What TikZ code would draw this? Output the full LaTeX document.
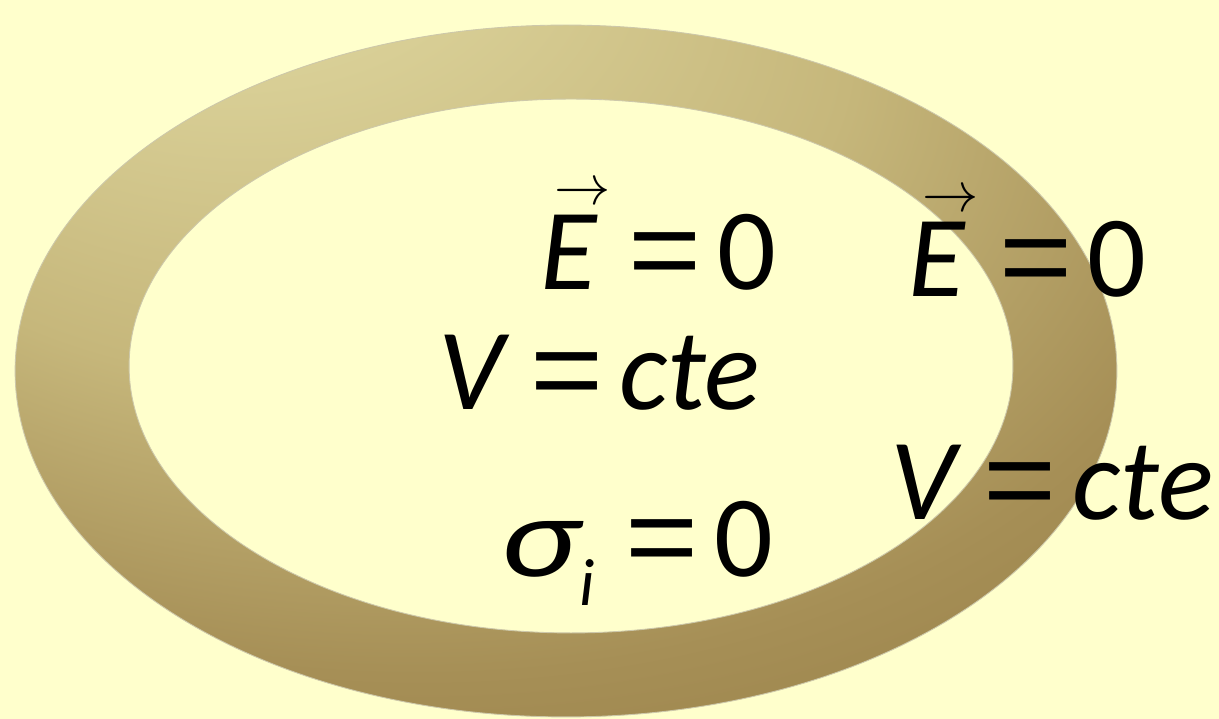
\RequirePackage{fix-cm}
\documentclass[tikz,border=0pt]{standalone}
\usepackage{fontspec}
\setmainfont{Carlito}
\newfontfamily\eqfont{Liberation Sans}
\usetikzlibrary{positioning}

\definecolor{bgyellow}{RGB}{255,255,204}
\definecolor{ringA}{RGB}{236,234,182}
\definecolor{ringB}{RGB}{222,214,158}
\definecolor{ringC}{RGB}{198,183,123}
\definecolor{ringD}{RGB}{166,143,86}
\definecolor{ringE}{RGB}{150,126,70}
\definecolor{ringF}{RGB}{138,112,56}
\definecolor{ringedge}{RGB}{205,200,170}

\pgfdeclareradialshading{ringshade}{\pgfpoint{-20bp}{42bp}}{%
  color(0bp)=(ringA); color(8bp)=(ringB); color(24bp)=(ringC);
  color(36bp)=(ringD); color(45bp)=(ringE); color(54bp)=(ringF)}

% equals sign and vector E
\newcommand{\eqsign}[2]{\hspace{#1}{\upshape\eqfont\scalebox{1.08}[1]{=}}\hspace{#2}}
\newcommand{\vecE}{\makebox[0pt][l]{\kern0.12em\raisebox{0.74em}{\fontsize{32}{32}\selectfont$\rightarrow$}}E}

\begin{document}
\begin{tikzpicture}[x=0.02cm, y=0.02cm,
		% Style definitions
		ringfill/.style={
			shade,
			shading=ringshade,
			even odd rule,
			draw=ringedge,
			line width=0.5pt
		},
		formula/.style={
			anchor=base west,
			inner sep=0pt,
			font=\fontsize{66}{70}\selectfont\itshape
		}
		]
		% Background
		\useasboundingbox (0,0) rectangle (1219,719);
		\fill[bgyellow] (0,0) rectangle (1219,719);
		
		% Conductor ring
		\path[ringfill] (566,348) ellipse [x radius=11.02cm, y radius=6.92cm]
			(571,353) ellipse [x radius=8.84cm, y radius=5.34cm];
		
		% Inside the cavity
		\node[formula] (Ein) at (540,429) {\vecE\eqsign{0.27em}{0.14em}{\upshape 0}};
		\node[formula] (Vin) at (438,309) {V\eqsign{0.23em}{0.13em}cte};
		\node[formula] (Sin) at (500,142) {\scalebox{1.28}[1]{σ}\raisebox{-16pt}{\fontsize{38}{38}\selectfont i}\eqsign{0.27em}{0.13em}{\upshape 0}};
		
		% In the conductor
		\node[formula] (Eout) at (908,422) {\vecE\eqsign{0.3em}{0.13em}{\upshape 0}};
		\node[formula] (Vout) at (890,199) {V\eqsign{0.24em}{0.13em}cte};
		
	\end{tikzpicture}
\end{document}
